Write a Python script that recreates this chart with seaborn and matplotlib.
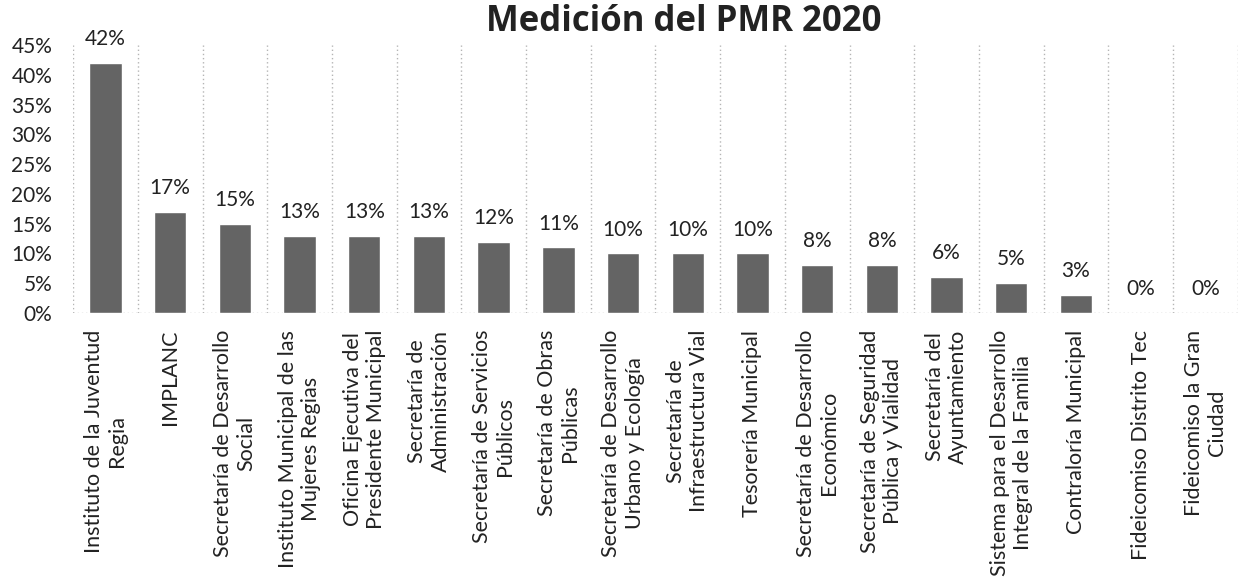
import numpy as np
import pandas as pd
import seaborn as sns
from matplotlib import pyplot as plt
from matplotlib.ticker import PercentFormatter, MultipleLocator

categories = [
    "Instituto de la Juventud\nRegia",
    "IMPLANC",
    "Secretaría de Desarrollo\nSocial",
    "Instituto Municipal de las\nMujeres Regias",
    "Oficina Ejecutiva del\nPresidente Municipal",
    "Secretaría de\nAdministración",
    "Secretaría de Servicios\nPúblicos",
    "Secretaría de Obras\nPúblicas",
    "Secretaría de Desarrollo\nUrbano y Ecología",
    "Secretaría de\nInfraestructura Vial",
    "Tesorería Municipal",
    "Secretaría de Desarrollo\nEconómico",
    "Secretaría de Seguridad\nPública y Vialidad",
    "Secretaría del\nAyuntamiento",
    "Sistema para el Desarrollo\nIntegral de la Familia",
    "Contraloría Municipal",
    "Fideicomiso Distrito Tec",
    "Fideicomiso la Gran\nCiudad",
]
values = [0.42, 0.17, 0.15, 0.13, 0.13, 0.13, 0.12, 0.11, 0.10, 0.10, 0.10,
          0.08, 0.08, 0.06, 0.05, 0.03, 0.0, 0.0]
title = "Medición del PMR 2020"

df = pd.DataFrame({"area": categories, "pmr": values})

sns.set_theme(style="white")
plt.rcParams["font.family"] = ["Lato", "DejaVu Sans"]

fig = plt.figure(figsize=(12.39, 5.85), dpi=100)
ax = fig.add_axes([0.059, 0.465, 0.94, 0.458])

sns.barplot(data=df, x="area", y="pmr", color="#646464", width=0.5,
            saturation=1, ax=ax)

ax.set_ylim(0, 0.45)
ax.set_xlim(-0.5, len(categories) - 0.5)
ax.yaxis.set_major_locator(MultipleLocator(0.05))
ax.yaxis.set_major_formatter(PercentFormatter(1.0, decimals=0))
ax.set_xlabel("")
ax.set_ylabel("")

for s in ax.spines.values():
    s.set_visible(False)

# dotted separators between categories
for b in np.arange(-0.5, len(categories), 1.0):
    ax.axvline(b, color="#b5b5b5", linestyle=(0, (1, 2)), linewidth=1, zorder=0)
ax.axhline(0, color="#b5b5b5", linestyle=(0, (1, 2)), linewidth=1, zorder=0)

ax.bar_label(ax.containers[0], labels=[f"{v:.0%}" for v in values],
             padding=10, fontsize=15, color="#222222")

ax.tick_params(axis="y", labelsize=15, length=0, pad=15, labelcolor="#222222")
ax.tick_params(axis="x", labelsize=15.5, length=0, pad=12, labelcolor="#222222")
plt.setp(ax.get_xticklabels(), rotation=90, ha="center", va="top",
         multialignment="center")

fig.text(0.552, 0.962, title, ha="center", va="center", fontsize=25,
         fontweight="bold", color="#222222", family="Open Sans")

fig.savefig("out.png", dpi=100, facecolor="white")
